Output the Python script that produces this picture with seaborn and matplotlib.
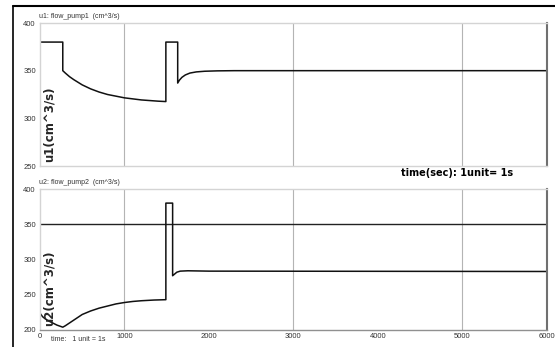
import numpy as np
import pandas as pd
import seaborn as sns
import matplotlib
matplotlib.use("Agg")
import matplotlib.pyplot as plt
from matplotlib.lines import Line2D

# ---- data ----
u1_time = [0, 270, 270, 300, 350, 400, 500, 600, 700, 800, 1000, 1200, 1400, 1490,
           1490, 1630, 1630, 1650, 1680, 1720, 1775, 1850, 1950, 2100, 2300, 2800, 6000]
u1_vals = [380, 380, 350, 347.5, 343.7, 340.6, 335.1, 330.9, 327.6, 325, 321.5, 319.3, 318, 317.6,
           380, 380, 337, 340, 343, 345.5, 347.5, 348.7, 349.4, 349.8, 350, 350, 350]

u2_time = [0, 30, 60, 100, 150, 200, 270, 300, 350, 400, 450, 500, 600, 700, 800, 900,
           1000, 1100, 1200, 1350, 1490,
           1490, 1570, 1570, 1590, 1620, 1660, 1750, 2000, 6000]
u2_vals = [224, 219, 216, 213, 210, 207, 204, 206, 210, 214, 218, 222, 227, 231, 234, 237,
           239, 240.5, 241.5, 242.5, 243,
           380, 380, 277, 279, 282, 283.5, 284, 283.5, 283]

u2_ref = 350
x_ticks = [0, 1000, 2000, 3000, 4000, 5000, 6000]
x_grid = [1000, 3000, 5000]
u1_yticks = [250, 300, 350, 400]
u2_yticks = [200, 250, 300, 350, 400]

df1 = pd.DataFrame({"time": u1_time, "u": u1_vals})
df2 = pd.DataFrame({"time": u2_time, "u": u2_vals})

sns.set_style("white")
plt.rcParams['font.family'] = ['Liberation Sans', 'DejaVu Sans']

fig = plt.figure(figsize=(5.55, 3.47), dpi=100)
ax1 = fig.add_axes([0.072, 0.5216, 0.9135, 0.4121])
ax2 = fig.add_axes([0.072, 0.049, 0.9135, 0.4063])

def style(ax, ylim, yticks, show_x):
    ax.set_xlim(0, 6000)
    ax.set_ylim(*ylim)
    ax.set_yticks(yticks)
    ax.set_xticks(x_ticks)
    for g in x_grid:
        ax.axvline(g, color="#b4b4b4", lw=0.8, zorder=0)
    ax.tick_params(axis="both", length=0, labelsize=5.5, colors="#333333", pad=3)
    if not show_x:
        ax.set_xticklabels([])
    else:
        ax.tick_params(axis="x", pad=2)
    for s in ["left", "top", "bottom"]:
        ax.spines[s].set_color("#d4d4d4")
        ax.spines[s].set_linewidth(1.0)
    ax.spines["right"].set_color("#707070")
    ax.spines["right"].set_linewidth(1.5)
    ax.set_xlabel("")
    ax.set_ylabel("")

sns.lineplot(data=df1, x="time", y="u", ax=ax1, color="#111111", lw=1.1,
             estimator=None, sort=False)
style(ax1, (250, 400), u1_yticks, False)

sns.lineplot(data=df2, x="time", y="u", ax=ax2, color="#111111", lw=1.1,
             estimator=None, sort=False)
ax2.axhline(u2_ref, color="#222222", lw=1.0, zorder=1)
style(ax2, (200, 400), u2_yticks, True)
ax2.spines["bottom"].set_color("#909090")

# titles / labels
fig.text(0.070, 0.948, "u1: flow_pump1  (cm^3/s)", fontsize=5, color="#333333")
fig.text(0.070, 0.469, "u2: flow_pump2  (cm^3/s)", fontsize=5, color="#333333")
ax1.text(0.005, 0.03, "u1(cm^3/s)", transform=ax1.transAxes, rotation=90,
         fontsize=8.5, fontweight="bold", family="DejaVu Sans", va="bottom", ha="left")
ax2.text(0.005, 0.03, "u2(cm^3/s)", transform=ax2.transAxes, rotation=90,
         fontsize=8.5, fontweight="bold", family="DejaVu Sans", va="bottom", ha="left")
fig.text(0.722, 0.487, "time(sec): 1unit= 1s", fontsize=7, fontweight="bold",
         family="DejaVu Sans", color="black", va="bottom")
fig.text(0.092, 0.016, "time:   1 unit = 1s", fontsize=5, color="#333333")

# outer frame lines
fig.add_artist(Line2D([13/555, 1.0], [1-6/347, 1-6/347], color="black", lw=1.5,
                      transform=fig.transFigure))
fig.add_artist(Line2D([13/555, 13/555], [0, 1-6/347], color="black", lw=1.2,
                      transform=fig.transFigure))

fig.savefig("out.png", dpi=100)
